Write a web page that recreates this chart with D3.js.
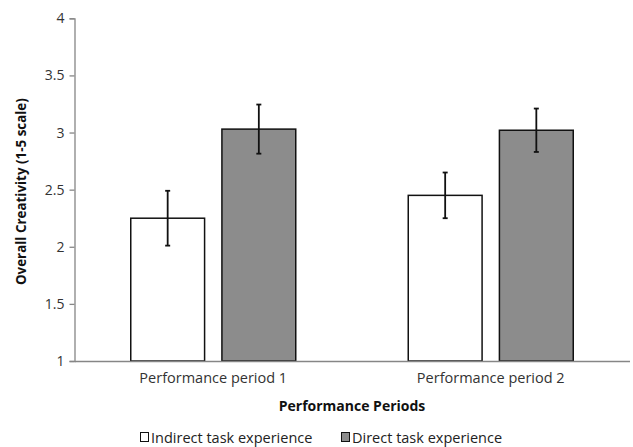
<!DOCTYPE html>
<html>
<head>
<meta charset="utf-8">
<script src="https://cdn.jsdelivr.net/npm/d3@7"></script>
<style>
  body { margin: 0; background: #fff; }
  text { font-family: "Open Sans", sans-serif; }
</style>
</head>
<body>
<svg id="chart" width="633" height="447"></svg>
<script>
const categories = ["Performance period 1", "Performance period 2"];
const seriesNames = ["Indirect task experience", "Direct task experience"];
const seriesColors = ["#ffffff", "#8c8c8c"];
const indirectValues = [2.25, 2.45];
const indirectErrors = [0.24, 0.20];
const directValues = [3.03, 3.02];
const directErrors = [0.215, 0.19];
const yTicks = [1, 1.5, 2, 2.5, 3, 3.5, 4];

const data = categories.map((c, i) => ({
  cat: c,
  vals: [
    { s: 0, v: indirectValues[i], e: indirectErrors[i] },
    { s: 1, v: directValues[i], e: directErrors[i] }
  ]
}));

const svg = d3.select("#chart");
const mLeft = 74.5, mRight = 629.5, mTop = 18.3, mBottom = 361;

const x = d3.scaleBand().domain(categories).range([mLeft, mRight]).paddingInner(0).paddingOuter(0);
const x1 = d3.scaleBand().domain([0, 1]).range([0, 165]).paddingInner(0.19);
const y = d3.scaleLinear().domain([1, 4]).range([mBottom, mTop]);

// y axis
const yAxis = svg.append("g").attr("transform", `translate(${mLeft},0)`)
  .call(d3.axisLeft(y).tickValues(yTicks).tickSize(5).tickPadding(5).tickFormat(d3.format("")));
yAxis.select(".domain").attr("stroke", "#868686").attr("stroke-width", 1.3);
yAxis.selectAll(".tick line").attr("stroke", "#868686").attr("stroke-width", 1.3);
yAxis.selectAll(".tick text").attr("font-size", 14).attr("fill", "#333").attr("font-family", "Open Sans, sans-serif");

// bars
const groups = svg.append("g").selectAll("g").data(data).join("g")
  .attr("transform", d => `translate(${x(d.cat) + (x.bandwidth() - 165) / 2},0)`);

groups.selectAll("rect").data(d => d.vals).join("rect")
  .attr("x", d => x1(d.s))
  .attr("y", d => y(d.v))
  .attr("width", x1.bandwidth())
  .attr("height", d => y(1) - y(d.v))
  .attr("fill", d => seriesColors[d.s])
  .attr("stroke", "#111")
  .attr("stroke-width", 1.5);

// error bars
const eb = groups.selectAll("g.eb").data(d => d.vals).join("g").attr("class", "eb");
eb.append("line")
  .attr("x1", d => x1(d.s) + x1.bandwidth() / 2)
  .attr("x2", d => x1(d.s) + x1.bandwidth() / 2)
  .attr("y1", d => y(d.v + d.e))
  .attr("y2", d => y(d.v - d.e))
  .attr("stroke", "#111").attr("stroke-width", 1.8);
[1, -1].forEach(sign => {
  eb.append("line")
    .attr("x1", d => x1(d.s) + x1.bandwidth() / 2 - 2.5)
    .attr("x2", d => x1(d.s) + x1.bandwidth() / 2 + 2.5)
    .attr("y1", d => y(d.v + sign * d.e))
    .attr("y2", d => y(d.v + sign * d.e))
    .attr("stroke", "#111").attr("stroke-width", 1.8);
});

// x axis
const xAxis = svg.append("g").attr("transform", `translate(0,${mBottom})`)
  .call(d3.axisBottom(x).tickSize(0).tickPadding(11.5));
xAxis.select(".domain").attr("stroke", "#868686").attr("stroke-width", 1.3);
xAxis.selectAll(".tick text").attr("font-size", 14.5).attr("fill", "#333").attr("font-family", "Open Sans, sans-serif");

// axis titles
svg.append("text")
  .attr("x", (mLeft + mRight) / 2).attr("y", 411)
  .attr("text-anchor", "middle").attr("font-size", 14).attr("font-weight", "bold").attr("fill", "#111")
  .text("Performance Periods");

svg.append("text")
  .attr("transform", `translate(26,${(mTop + mBottom) / 2 + 2}) rotate(-90)`)
  .attr("text-anchor", "middle").attr("font-size", 13.4).attr("font-weight", "bold").attr("fill", "#111")
  .text("Overall Creativity (1-5 scale)");

// legend
const legendX = [140, 341];
const legend = svg.append("g").selectAll("g").data(seriesNames).join("g")
  .attr("transform", (d, i) => `translate(${legendX[i]},0)`);
legend.append("rect")
  .attr("x", 0.5).attr("y", 432.5).attr("width", 8).attr("height", 9)
  .attr("fill", (d, i) => seriesColors[i]).attr("stroke", "#111").attr("stroke-width", 1);
legend.append("text")
  .attr("x", 11).attr("y", 443)
  .attr("font-size", 14.5).attr("fill", "#222")
  .text(d => d);
</script>
</body>
</html>
